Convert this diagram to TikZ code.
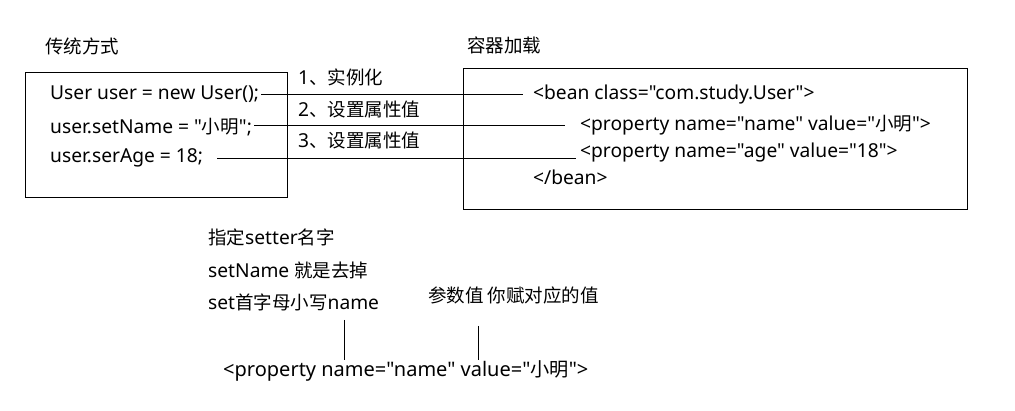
\documentclass[tikz,border=0pt]{standalone}
\usepackage{fontspec}
\newfontfamily\lat{Noto Sans}
\newfontfamily\cjk{Noto Sans CJK SC}
\newcommand{\zh}[1]{{\cjk\fontsize{18.5}{21}\selectfont #1}}
\newcommand{\zhb}[1]{{\cjk\fontsize{19.2}{22}\selectfont #1}}
\begin{document}
\begin{tikzpicture}[x=1pt,y=-1pt,
  txt/.style={anchor=west,inner sep=0pt,font=\lat\fontsize{19.2}{22}\selectfont},
  bigtxt/.style={anchor=west,inner sep=0pt,font=\lat\fontsize{20}{23}\selectfont},
  box/.style={draw,line width=0.8pt},
  conn/.style={line width=0.8pt}]
\useasboundingbox[fill=white] (0,0) rectangle (1015,411);
% titles
\node[txt] (t1) at (45,46) {\zh{传统方式}};
\node[txt] (t2) at (467,45) {\zh{容器加载}};
% left box
\node[box,minimum width=262pt,minimum height=125pt,anchor=north west,inner sep=0pt] (lb) at (25,72) {};
\node[txt] (u1) at (50,94) {User user = new User();};
\node[txt] (u2) at (50,127) {user.setName = "\zh{小明}";};
\node[txt] (u3) at (50,158) {user.serAge = 18;};
% right box
\node[box,minimum width=504pt,minimum height=141pt,anchor=north west,inner sep=0pt] (rb) at (463,68) {};
\node[txt] (b1) at (533,95) {<bean class="com.study.User">};
\node[txt] (p1) at (580,125) {<property name="name" value="\zh{小明}">};
\node[txt] (p2) at (580,153) {<property name="age" value="18">};
\node[txt] (b2) at (533,177) {</bean>};
% step labels
\node[txt] (s1) at (298,77) {1\zh{、实例化}};
\node[txt] (s2) at (298,110) {2\zh{、设置属性值}};
\node[txt] (s3) at (298,141) {3\zh{、设置属性值}};
% connectors
\draw[conn] ([xshift=2pt]u1.east) -- ([xshift=-10pt]u1.east -| b1.west);
\draw[conn] ([xshift=2pt,yshift=2pt]u2.east) -- ([xshift=-15pt,yshift=2pt]u2.east -| p1.west);
\draw[conn] ([xshift=14pt]u3.east) -- ([xshift=-4pt]u3.east -| p2.west);
% bottom notes
\node[txt] (n1) at (208,237) {\zh{指定}setter\zh{名字}};
\node[txt] (n2) at (208,270) {setName \zh{就是去掉}};
\node[txt] (n3) at (208,302) {set\zh{首字母小写}name};
\node[txt] (n4) at (428,295) {\zh{参数值 你赋对应的值}};
\node[bigtxt] (bp) at (223,371) {<property name="name" value="\zhb{小明}">};
\coordinate (v1t) at (344,320);
\coordinate (v2t) at (478,326);
\draw[conn] (v1t) -- (v1t |- bp.north);
\draw[conn] (v2t) -- (v2t |- bp.north);
\end{tikzpicture}
\end{document}
